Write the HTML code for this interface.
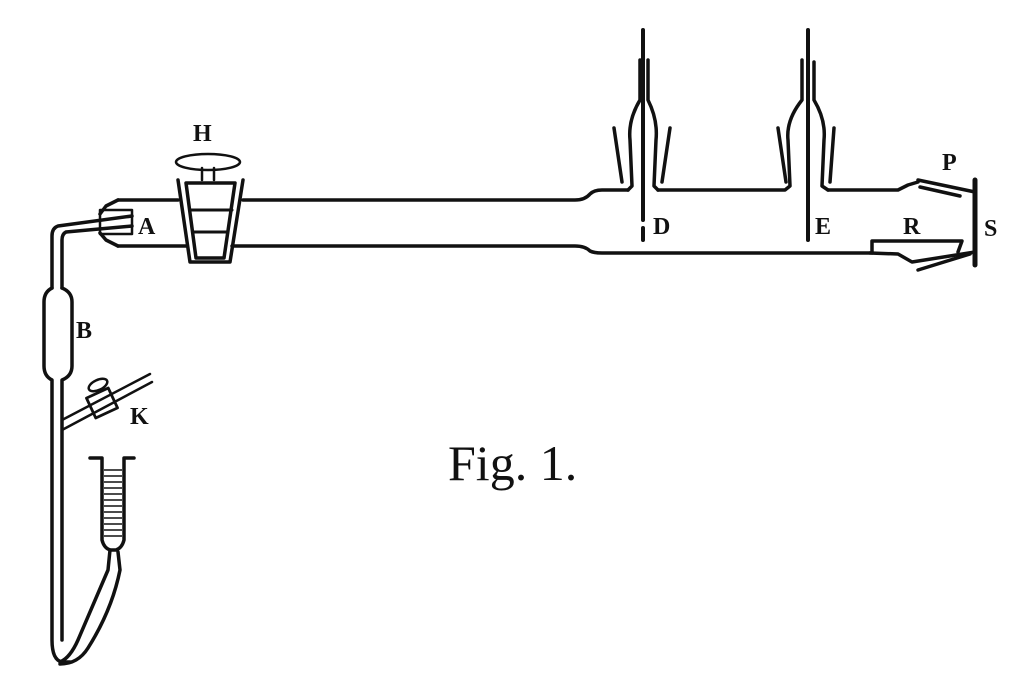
<!DOCTYPE html>
<html><head><style>
html,body{margin:0;padding:0;background:#fff;}
svg{display:block;}
text{font-family:"Liberation Serif",serif;font-weight:bold;fill:#111;}
</style></head><body>
<svg width="1016" height="680" viewBox="0 0 1016 680" xmlns="http://www.w3.org/2000/svg">
<g fill="none" stroke="#111" stroke-width="3.5" stroke-linejoin="round" stroke-linecap="round">
<path d="M118,200 L178,200 M243,200 L575,200 Q585,200 590,194 Q594,190 602,190 L628,190"/>
<path d="M118,246 L186,246 M232,246 L575,246 Q585,246 590,251 Q594,253 602,253 L870,253"/>
<path d="M118,200 L106,206 L100,214"/>
<path d="M118,246 L106,240 L100,233"/>
<rect x="100" y="210" width="32" height="24" stroke-width="2.5"/>
<path d="M132,216 L58,226 Q52,228 52,236 L52,288"/>
<path d="M132,226 L66,232 Q62,234 62,240 L62,288"/>
<path d="M52,288 Q44,292 44,302 L44,366 Q44,376 52,380 L52,640 Q52,660 62,662 L70,662"/>
<path d="M62,288 Q72,292 72,302 L72,366 Q72,376 62,380 L62,640"/>
<path d="M62,420 L150,374 M62,430 L152,382" stroke-width="2.5"/>
<rect x="90" y="392" width="24" height="22" transform="rotate(-25 102 403)" stroke-width="2.8"/>
<ellipse cx="98" cy="385" rx="10" ry="5" transform="rotate(-25 98 385)" stroke-width="2.5"/>
<path d="M178,180 L190,262 L230,262 L243,180"/>
<path d="M186,183 L196,258 L224,258 L235,183 Z"/>
<path d="M190,210 L232,210 M193,232 L228,232" stroke-width="3"/>
<ellipse cx="208" cy="162" rx="32" ry="8" stroke-width="2.5"/>
<path d="M202,168 L202,180 M214,168 L214,180" stroke-width="2.5"/>
<path d="M628,190 L632,186 L630,140 Q628,120 640,100 L640,60"/>
<path d="M658,190 L654,186 L656,140 Q658,120 648,100 L648,60"/>
<path d="M614,128 L622,182 M670,128 L662,182"/>
<path d="M643,30 L643,220 M643,228 L643,240" stroke-width="4"/>
<path d="M658,190 L785,190 L790,186 L788,140 Q786,120 802,100 L802,60"/>
<path d="M828,190 L822,186 L824,140 Q826,120 814,100 L814,62"/>
<path d="M778,128 L786,182 M834,128 L830,182"/>
<path d="M808,30 L808,240" stroke-width="4"/>
<path d="M828,190 L898,190 L908,185 L918,182"/>
<path d="M918,180 L975,192 M920,187 L960,196"/>
<path d="M870,253 L898,254 L912,262 L975,252"/>
<path d="M918,270 L970,254 M872,241 L962,241 L958,252 M872,241 L872,253"/>
<path d="M975,180 L975,265" stroke-width="5"/>
<path d="M90,458 L102,458 L102,540 Q104,548 110,550 L116,550 Q122,548 124,540 L124,458 L134,458"/>
<path d="M110,550 L108,570 Q95,600 78,640 Q70,658 60,662 M118,552 L120,570 Q112,610 88,648 Q78,664 60,664"/>
</g>
<g stroke="#111" stroke-width="1.5">
<path d="M104,470 H122 M104,476 H122 M104,482 H122 M104,488 H122 M104,494 H122 M104,500 H122 M104,506 H122 M104,512 H122 M104,518 H122 M104,524 H122 M104,530 H122 M104,536 H122"/>
<path d="M52,400 V520 M62,400 V520" stroke-width="2" stroke-dasharray="4 3"/>
</g>
<text x="193" y="141" font-size="24">H</text>
<text x="138" y="234" font-size="24">A</text>
<text x="76" y="338" font-size="24">B</text>
<text x="130" y="424" font-size="24">K</text>
<text x="653" y="234" font-size="24">D</text>
<text x="815" y="234" font-size="24">E</text>
<text x="903" y="234" font-size="24">R</text>
<text x="942" y="170" font-size="24">P</text>
<text x="984" y="236" font-size="24">S</text>
<text x="448" y="480" font-size="50" style="font-weight:normal">Fig. 1.</text>
</svg>
</body></html>
